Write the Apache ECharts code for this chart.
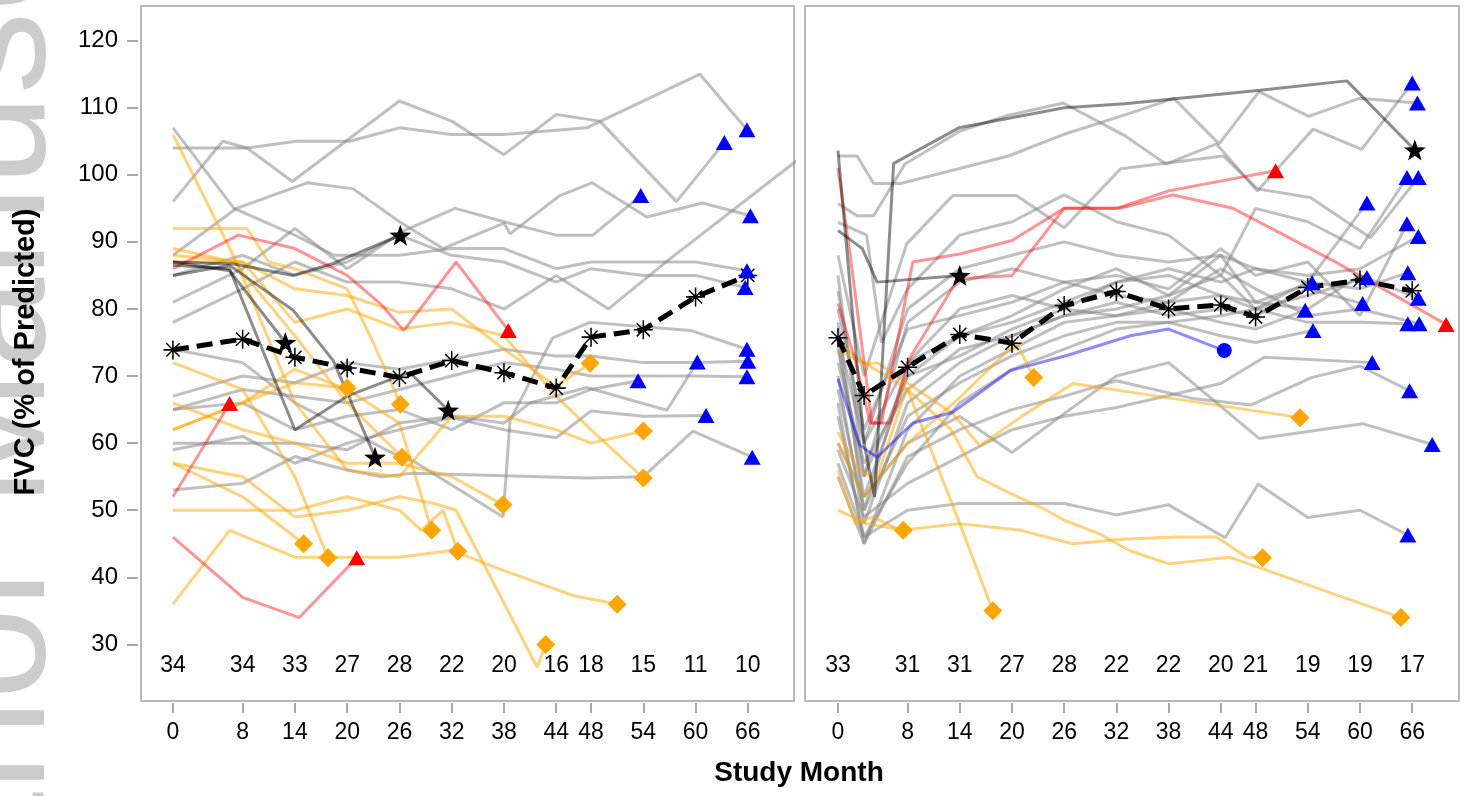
<!DOCTYPE html>
<html><head><meta charset="utf-8">
<script src="https://cdn.jsdelivr.net/npm/echarts@6/dist/echarts.min.js"></script>
<style>html,body{margin:0;padding:0;background:#fff}#c{width:1468px;height:796px}</style>
</head><body><div id="c"></div>
<script>
// ---------- tick labels ----------
const xTicks = [0, 8, 14, 20, 26, 32, 38, 44, 48, 54, 60, 66];
const yTicks = [30, 40, 50, 60, 70, 80, 90, 100, 110, 120];

// ---------- sample sizes ----------
const leftN = [34, 34, 33, 27, 28, 22, 20, 16, 18, 15, 11, 10];
const rightN = [33, 31, 31, 27, 28, 22, 22, 20, 21, 19, 19, 17];

// ---------- mean lines ----------
const leftMeanMonths = [0, 8, 14, 20, 26, 32, 38, 44, 48, 54, 60, 66];
const leftMeanValues = [73.9, 75.5, 72.8, 71.2, 69.8, 72.3, 70.5, 68.2, 75.8, 76.9, 81.8, 85.0];
const rightMeanMonths = [0, 3, 8, 14, 20, 26, 32, 38, 44, 48, 54, 60, 66];
const rightMeanValues = [75.7, 67.1, 71.3, 76.2, 74.9, 80.5, 82.6, 80.0, 80.6, 78.8, 83.2, 84.3, 82.7];

// ---------- individual subjects, left panel ----------
const leftGray = [
  [[0,104],[8.5,104],[14.2,105],[20.3,105],[26,107],[32,106],[38,106],[47.5,107],[60.5,115],[65.9,106.7]],
  [[0,96],[5.7,105],[8.5,104],[13.7,99],[26,111],[32,108],[38,103],[44,109],[49,108],[57.8,96],[63.3,104.8]],
  [[0,107],[7,95],[14,91],[18.5,88],[26,88],[32,89],[38,89],[44,86],[48,87],[54,87],[60,87],[65.9,85.7]],
  [[0,88],[7.3,95],[15.4,98.8],[20.7,97.9],[26,93],[31,89],[38,92.8],[38.7,91.2],[44.4,96.9],[48.1,98.8],[54.4,93.7],[60.8,95.8],[66.3,93.9]],
  [[0,81],[8,86],[14,92],[20,86],[26.4,91.6],[32.4,95],[38,93],[44,91],[48.2,91],[53.7,96.9]],
  [[0,78],[8,83],[14,87],[20,84],[26,84],[32,83],[38,80],[44,85],[50,80],[56.8,87.2],[73,103.5]],
  [[0,85],[8,88],[14,85],[20,87],[26,91],[32,88],[38,87],[44,84],[48,86],[54,85],[60,85],[65.7,83.2]],
  [[0,74],[8,72],[14,66],[20,62],[26,58],[27.5,57.4],[37.9,49],[38.7,63.4],[43.6,75.7],[47.9,78],[59.4,76.8],[65.9,74]],
  [[0,67],[8,70],[14,69],[20,72],[26,71],[32,72.5],[38,74],[44,73],[48,73],[54,72],[60,72],[66,72.2]],
  [[0,65],[8,68],[14,67],[20,66],[26,68],[32,70],[38,72],[44,71],[48,70],[54,70],[60,70],[65.9,69.9]],
  [[0,60],[8,60],[14,60],[20,59],[26,63],[32,64],[38,63],[41,66],[47.5,68.3],[56.7,64.9],[60.2,72.1]],
  [[0,59],[8,61],[14,57],[20,60],[26,62],[32,63.8],[38,62],[44,60.8],[48,64.8],[54,64],[61.2,64.1]],
  [[0,53],[8,54],[14,58],[20,56],[24,55],[27.5,55.5],[47.5,54.8],[54,55],[59.7,61.8],[66.5,57.9]],
  [[0,65],[8,66],[14,62],[20,64],[26,65],[32,62],[38,66],[44,66],[48,68],[53.4,69.3]]
];
const leftGrayEnds = ['tri','tri','tri','tri','tri','none','tri','tri','tri','tri','tri','tri','tri','tri'];

const leftOrange = [
  [[0,87],[8,87],[14,83],[20,82],[26,79.5],[32,80],[38,74],[44,68.5],[47.9,71.9]],
  [[0,92],[8.5,92],[11,87],[14,86],[20,83],[23,75],[26.1,65.8]],
  [[0,62],[8,66],[14,69],[20,68.2]],
  [[0,89],[7,87],[14,76],[20,66],[26.3,57.9]],
  [[0,57],[8,52],[15,45]],
  [[0,72],[8,68],[14,55],[17.8,42.9]],
  [[0,62],[8,66],[14,71],[20,68],[26,63],[29.7,47]],
  [[0,50],[8,50],[14,50],[20,52],[26,50],[28.5,47],[31,50],[32.7,43.9]],
  [[0,66],[8,62],[14,60],[20,57],[26,57],[32,55],[37.9,50.8]],
  [[0,106],[7.3,87],[14,66],[20,56],[26,55],[32,64],[38,64],[44,62],[48,60],[54,61.8]],
  [[0,88],[8,87],[14,78],[20,80],[26,77],[32,78],[38,76],[44,67],[48,62],[54,54.8]],
  [[0,36],[6.5,47],[14,43],[20,43],[26,43],[32,44],[38,41],[45.9,37.3],[51,36]],
  [[0,57],[8,55],[14,49],[20,50],[26,52],[30,51],[32.5,50],[41.8,26.6],[42.8,30]]
];
const leftRed = [
  [[0,52],[6.5,65.9]],
  [[0,46],[8,37],[14.5,34],[21.1,42.9]],
  [[0,86],[7.5,91],[14,89],[20,85],[23.8,80.8],[26.5,76.8],[32.5,87],[38.5,76.8]]
];
const leftDark = [
  [[0,87],[7,86.7],[13.8,85],[18.4,86.8],[26.1,91]],
  [[0,87],[6.5,85.7],[12.9,75]],
  [[0,85],[6.5,86.5],[13.8,79.8],[18.4,72.3],[23.2,57.9]],
  [[0,86.5],[6.5,86],[14,62],[20,67],[26,70],[27.2,70.5],[31.6,64.9]]
];

// ---------- individual subjects, right panel ----------
const rightGray = [
  [[0,102.8],[2.2,102.8],[4.1,98.7],[7.2,98.7],[19.6,102.8],[25.9,106],[33.6,109.2],[38.6,111.4],[43.8,104.6],[48.4,112.4],[54.1,108.7],[59.9,111.4],[66.6,110.7]],
  [[0,95.7],[2.2,93.9],[4.1,93.9],[7.7,101.6],[14,106.5],[19.4,108.8],[25.9,110.7],[33,105.8],[37.7,101.6],[43.5,104.6],[48.2,97.6],[54.6,106.8],[60.2,103.8],[66,113.7]],
  [[0,88],[3,70],[7.9,89.7],[13.2,96.9],[20.5,96.9],[26,92.1],[32.5,100.9],[44.3,102.8],[48.2,97.9],[54.3,96.6],[61.2,90.6],[66.7,99.6]],
  [[0,92.9],[3.3,91],[5,75],[8,83],[14,91],[20,93],[26,97],[32,93],[38,91],[44,85],[48,95],[54,93],[60,89],[65.4,99.6]],
  [[0,82.7],[3,60],[8,80],[14,86],[20,88],[26,90],[32,88],[38,87],[44,88],[48,86],[54,84],[60.8,95.8]],
  [[0,85],[3,55],[8,78],[14,84],[20,86],[26,84],[32,85],[38,83],[44,89],[48,85],[54,87],[60,79],[65.4,92.7]],
  [[0,78],[3,50],[8,72],[14,80],[20,82],[26,80],[32,84],[38,86],[44,84],[48,86],[54,85],[60,86],[66.7,90.8]],
  [[0,80],[3,62],[8,77],[14,79],[20,81],[26,84],[32,82],[38,81],[44,82],[48,80],[54,84],[60,83],[65.5,85.4]],
  [[0,75],[3,52],[8,70],[14,76],[20,78],[26,81],[32,84],[38,85],[44,82],[48,81],[54.5,83.9]],
  [[0,70],[3,48],[8,66],[14,72],[20,76],[26,79],[32,80],[38,82],[44,85],[48,80],[54,82],[60.8,84.7]],
  [[0,66],[3,45],[8,62],[14,70],[20,74],[26,78],[32,79],[38,80],[44,78],[48,77],[53.7,79.8]],
  [[0,72],[3,57],[8,68],[14,74],[20,76],[26,79],[32,81],[38,79],[44,80],[48,79],[54,83],[60.3,80.8]],
  [[0,76],[3,60],[8,72],[14,76],[20,79],[26,83],[32,86],[38,82],[44,88],[48,81],[54,80],[60,85],[66.7,81.6]],
  [[0,64],[3,46],[8,57],[14,66],[20,71],[26,74],[32,77],[38,78],[44,76],[48,75],[54.6,76.8]],
  [[0,68],[3,50],[8,64],[14,69],[20,73],[26,76],[32,78],[38,78],[44,79],[48,80],[54,78],[60,78],[65.5,77.8]],
  [[0,74],[3,55],[8,70],[14,73],[20,77],[26,80],[32,79],[38,81],[44,86],[48,83],[54,79],[60,80],[66.8,77.8]],
  [[0,59],[3,49],[8,54],[14,58],[20,62],[26,64],[32,65.3],[44,68.9],[49,72.8],[61.4,72]],
  [[0,55],[3,45],[8,58],[14,62],[20,65],[26,67],[32,69.3],[41,66.6],[47.5,65.7],[54.5,69.8],[60,71.5],[65.7,67.8]],
  [[0,60],[3,52],[8,60],[14,64],[20,58.6],[26,64.4],[32,70],[38,72],[48.4,60.7],[60.3,62.9],[68.3,59.8]],
  [[0,57],[3,46],[8,50],[14,51],[20,51],[26,51],[32,49.3],[38,50.8],[44.5,45.9],[48.3,53.9],[54,48.9],[60,50],[65.5,46.3]]
];
const rightGrayEnds = rightGray.map(() => 'tri');
const rightOrange = [
  [[0,60],[3,52],[8,60],[14,66.8],[20.5,75],[22.5,69.8]],
  [[0,73.8],[3.1,71.8],[4.5,72],[13.2,64.4],[16.3,59.6],[20.9,63.8],[27,68.9],[33.6,67.6],[53.1,63.8]],
  [[0,61.6],[2.2,56.4],[3.7,55],[4.5,55],[7.9,68.3],[14,48],[17.8,35]],
  [[0,50],[3.3,48],[7.5,47]],
  [[0,56],[2,48],[4,49],[7.2,47],[14,48],[21,47],[27,45],[33,45.7],[39,46],[43.5,46],[47,43],[48.8,42.9]],
  [[0,75],[3,72],[8,68],[13,62],[16,55],[19,53],[24,50],[26,48.5],[30,46.5],[33.5,44],[38,42],[45,43],[64.7,34]]
];
const rightRed = [
  [[0,101],[1.4,88],[3.9,63],[6,63],[8.3,72.8],[13.8,84.5],[20,85],[26,95],[32,95],[38,97.6],[50.3,100.6]],
  [[0,80.8],[2,72.3],[3.7,63],[5,63],[8.6,87],[14,88.2],[20,90.2],[26,95],[32.4,95],[38.5,97],[45.4,95],[56.9,87.2],[69.9,77.7]]
];
const rightDark = [
  [[0,103.6],[3,60],[4.2,52],[6.4,101.7],[13.9,107],[26,110],[33,110.6],[48.5,112.6],[58.5,114],[66.3,103.7]],
  [[0,91.7],[2.8,89],[4.5,84],[14,85]]
];
const rightBlue = [
  [[0,69.6],[2.5,59.7],[4.5,57.9],[8.6,63],[13.2,64.6],[19.8,70.8],[26.4,73.1],[33.6,76],[38,77],[44.4,73.8]]
];

// ---------- styling ----------
const FONT = '"Liberation Sans", Arial, Helvetica, sans-serif';
const C_GRAY = 'rgba(128,128,128,0.5)';
const C_ORANGE = 'rgba(255,165,0,0.5)';
const C_RED = 'rgba(255,0,0,0.42)';
const C_DARK = 'rgba(0,0,0,0.45)';
const C_BLUE = 'rgba(0,0,255,0.45)';
const STAR = 'path://M10 0 L12.35 6.76 L19.51 6.91 L13.8 11.24 L15.88 18.09 L10 14 L4.12 18.09 L6.2 11.24 L0.49 6.91 L7.65 6.76 Z';
const AST = 'path://M9.2 0 L10.8 0 L10.8 20 L9.2 20 Z M0 9.2 L20 9.2 L20 10.8 L0 10.8 Z M2.5 3.6 L3.6 2.5 L17.5 16.4 L16.4 17.5 Z M16.4 2.5 L17.5 3.6 L3.6 17.5 L2.5 16.4 Z';
const MARK = {
  tri:  { symbol: 'triangle', size: [17, 15], color: '#0000ff' },
  rtri: { symbol: 'triangle', size: [17, 15], color: '#ff0000' },
  dia:  { symbol: 'diamond',  size: [19, 19], color: '#ffa500' },
  star: { symbol: STAR,       size: [22, 21], color: '#000000' },
  circ: { symbol: 'circle',   size: 15,       color: '#0000ff' }
};
const COUNT_Y = 26.9;

function panel(idx, groups, meanM, meanV, counts) {
  const s = [];
  const ends = { tri: [], rtri: [], dia: [], star: [], circ: [] };
  groups.forEach(g => {
    g.lines.forEach((ln, i) => {
      s.push({ type: 'line', xAxisIndex: idx, yAxisIndex: idx, data: ln, symbol: 'none',
        lineStyle: { color: g.color, width: 3 }, silent: true, z: 2 });
      const e = g.ends[i];
      if (e && e !== 'none') ends[e].push(ln[ln.length - 1]);
    });
  });
  s.push({ type: 'line', xAxisIndex: idx, yAxisIndex: idx, z: 4, silent: true,
    data: meanM.map((m, i) => [m, meanV[i]]),
    symbol: AST, symbolSize: 19, showSymbol: true, itemStyle: { color: '#000' },
    lineStyle: { color: '#000', width: 5, type: [16, 8] } });
  Object.keys(ends).forEach(k => {
    if (!ends[k].length) return;
    s.push({ type: 'scatter', xAxisIndex: idx, yAxisIndex: idx, z: 5, silent: true, clip: false,
      data: ends[k], symbol: MARK[k].symbol, symbolSize: MARK[k].size,
      itemStyle: { color: MARK[k].color, opacity: 1 } });
  });
  s.push({ type: 'custom', xAxisIndex: idx, yAxisIndex: idx, z: 6, silent: true,
    data: xTicks.map((m, i) => [m, COUNT_Y, counts[i]]),
    renderItem: (params, api) => {
      const p = api.coord([api.value(0), api.value(1)]);
      return { type: 'text', x: p[0], y: p[1],
        style: { text: String(api.value(2)), fill: '#000', font: '23px ' + FONT, align: 'center', verticalAlign: 'middle' } };
    } });
  return s;
}

const fill = (arr, v) => arr.map(() => v);
const seriesLeft = panel(0, [
  { lines: leftGray, ends: leftGrayEnds, color: C_GRAY },
  { lines: leftOrange, ends: fill(leftOrange, 'dia'), color: C_ORANGE },
  { lines: leftRed, ends: fill(leftRed, 'rtri'), color: C_RED },
  { lines: leftDark, ends: fill(leftDark, 'star'), color: C_DARK }
], leftMeanMonths, leftMeanValues, leftN);
const seriesRight = panel(1, [
  { lines: rightGray, ends: rightGrayEnds, color: C_GRAY },
  { lines: rightOrange, ends: fill(rightOrange, 'dia'), color: C_ORANGE },
  { lines: rightRed, ends: fill(rightRed, 'rtri'), color: C_RED },
  { lines: rightDark, ends: fill(rightDark, 'star'), color: C_DARK },
  { lines: rightBlue, ends: fill(rightBlue, 'circ'), color: C_BLUE }
], rightMeanMonths, rightMeanValues, rightN);

function xAxis(idx, min, max) {
  return { type: 'value', gridIndex: idx, min, max, offset: 2,
    splitLine: { show: false }, axisLine: { show: false, onZero: false },
    axisTick: { show: true, customValues: xTicks, length: 10, lineStyle: { color: '#a8a8a8', width: 2 } },
    axisLabel: { show: true, customValues: xTicks, margin: 18, fontFamily: FONT, fontSize: 23, color: '#000' } };
}
function yAxis(idx, showLabels) {
  return { type: 'value', gridIndex: idx, min: 21.56, max: 125.16, offset: 3,
    splitLine: { show: false }, axisLine: { show: false, onZero: false },
    axisTick: { show: showLabels, customValues: yTicks, length: 11, lineStyle: { color: '#a8a8a8', width: 2 } },
    axisLabel: { show: showLabels, customValues: yTicks, margin: 20, fontFamily: FONT, fontSize: 24, color: '#000' } };
}

const chart = echarts.init(document.getElementById('c'), null, { renderer: 'canvas' });
chart.setOption({
  backgroundColor: '#ffffff',
  animation: false,
  grid: [
    { left: 141, top: 6, width: 653, height: 695, show: true, borderColor: '#b8b8b8', borderWidth: 2, backgroundColor: 'transparent' },
    { left: 805, top: 6, width: 654, height: 695, show: true, borderColor: '#b8b8b8', borderWidth: 2, backgroundColor: 'transparent' }
  ],
  xAxis: [xAxis(0, -3.67, 71.3), xAxis(1, -3.79, 71.38)],
  yAxis: [yAxis(0, true), yAxis(1, false)],
  graphic: [
    { type: 'text', x: 81, y: 1039, rotation: Math.PI / 2, silent: true, z: -10,
      style: { text: 'Author Manuscript', font: '165px ' + FONT, fill: '#cccccc', align: 'left', verticalAlign: 'bottom' } },
    { type: 'text', x: 26, y: 352, rotation: Math.PI / 2, silent: true,
      style: { text: 'FVC (% of Predicted)', font: 'bold 29px ' + FONT, fill: '#000', align: 'center', verticalAlign: 'middle' } },
    { type: 'text', x: 799, y: 773, silent: true,
      style: { text: 'Study Month', font: 'bold 28px ' + FONT, fill: '#000', align: 'center', verticalAlign: 'middle' } }
  ],
  series: seriesLeft.concat(seriesRight)
});
</script></body></html>
